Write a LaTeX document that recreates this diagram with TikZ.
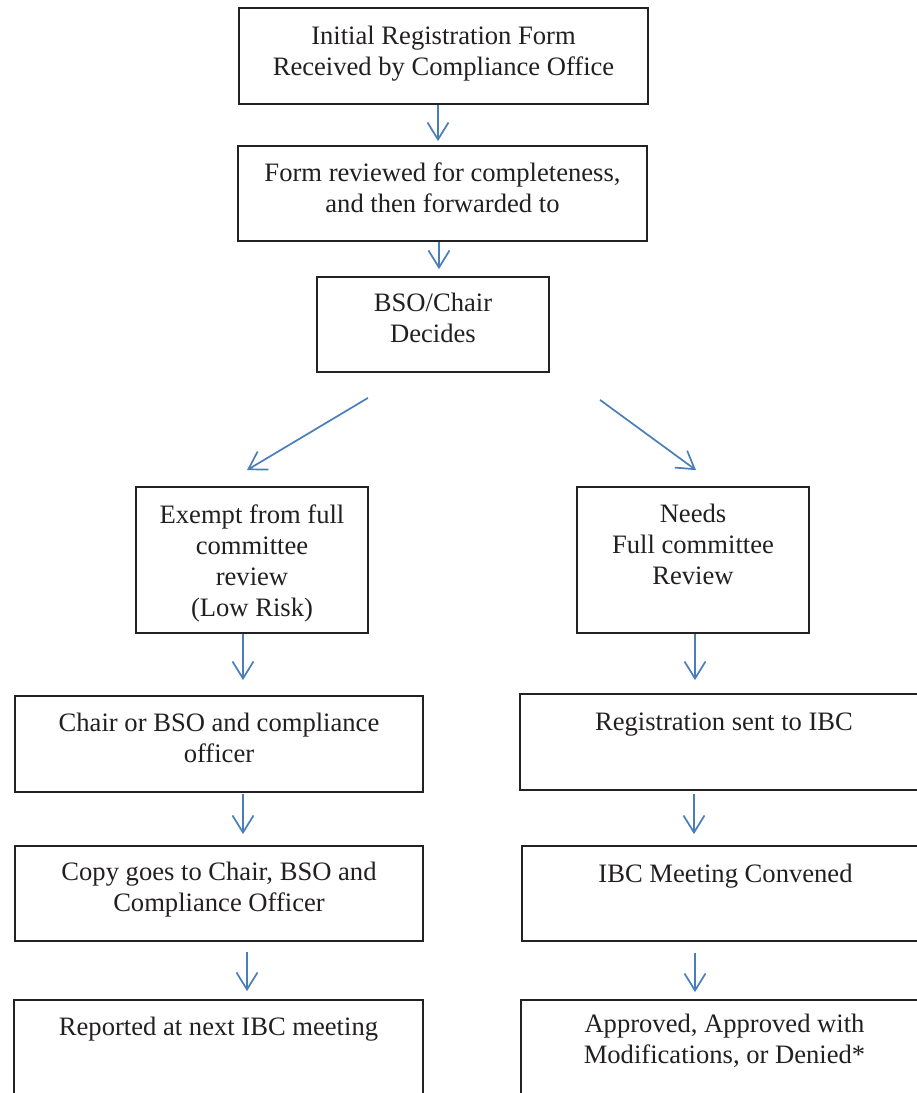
\documentclass[tikz,border=0pt]{standalone}
\usepackage{fontspec}
\setmainfont{Liberation Serif}
\usetikzlibrary{arrows.meta}
\definecolor{arrowblue}{HTML}{4A7EBB}
\definecolor{boxline}{HTML}{222222}
\definecolor{txtcol}{HTML}{231F20}
\tikzset{
  flowbox/.style={draw=boxline, line width=1.8pt, rectangle, inner sep=0pt},
  flowtxt/.style={anchor=north, inner sep=0pt, align=center, text=txtcol,
    font=\fontsize{26.6}{31}\selectfont},
  flowarr/.style={draw=arrowblue, line width=1.7pt,
    -{Straight Barb[length=17pt,width=21pt,line width=1.7pt]}}
}
\begin{document}
\begin{tikzpicture}[x=1pt,y=-1pt]
\useasboundingbox (0,0) rectangle (917,1093);
\clip (0,0) rectangle (917,1093);
% boxes
\node[flowbox, minimum width=409pt, minimum height=96pt] (b1) at (443.5,56) {};
\node[flowbox, minimum width=409pt, minimum height=95pt] (b2) at (442.5,193.5) {};
\node[flowbox, minimum width=232pt, minimum height=95pt] (b3) at (433,324.5) {};
\node[flowbox, minimum width=232pt, minimum height=146pt] (b4) at (252,560) {};
\node[flowbox, minimum width=232pt, minimum height=146pt] (b5) at (693,560) {};
\node[flowbox, minimum width=408pt, minimum height=96pt] (b6) at (219,744) {};
\node[flowbox, minimum width=408pt, minimum height=96pt] (b7) at (724,742) {};
\node[flowbox, minimum width=408pt, minimum height=95pt] (b8) at (219,893.5) {};
\node[flowbox, minimum width=407pt, minimum height=95pt] (b9) at (725.5,893.5) {};
\node[flowbox, minimum width=409pt, minimum height=96pt] (b10) at (218.5,1048) {};
\node[flowbox, minimum width=407pt, minimum height=96pt] (b11) at (724.5,1048) {};
% texts
\node[flowtxt] (t1) at ([yshift=-19pt]b1.north) {Initial Registration Form\\Received by Compliance Office};
\node[flowtxt] (t2) at ([yshift=-17pt]b2.north) {Form reviewed for completeness,\\and then forwarded to};
\node[flowtxt] (t3) at ([yshift=-17pt]b3.north) {BSO/Chair\\Decides};
\node[flowtxt] (t4) at ([yshift=-18pt]b4.north) {Exempt from full\\committee\\review\\(Low Risk)};
\node[flowtxt] (t5) at ([yshift=-18pt]b5.north) {Needs\\Full committee\\Review};
\node[flowtxt] (t6) at ([yshift=-18pt]b6.north) {Chair or BSO and compliance\\officer};
\node[flowtxt] (t7) at ([yshift=-20pt]b7.north) {Registration sent to IBC};
\node[flowtxt] (t8) at ([yshift=-17pt]b8.north) {Copy goes to Chair, BSO and\\Compliance Officer};
\node[flowtxt] (t9) at ([yshift=-19pt]b9.north) {IBC Meeting Convened};
\node[flowtxt] (t10) at ([yshift=-18pt]b10.north) {Reported at next IBC meeting};
\node[flowtxt] (t11) at ([yshift=-15pt]b11.north) {Approved, Approved with\\Modifications, or Denied*};
% arrows
\draw[flowarr] ([xshift=-5.5pt]b1.south) -- ([xshift=-4.5pt,yshift=4pt]b2.north);
\draw[flowarr] ([xshift=-3.5pt]b2.south) -- ([xshift=6pt,yshift=7pt]b3.north);
\draw[flowarr] ([xshift=-65pt,yshift=-25pt]b3.south) -- ([xshift=-5pt,yshift=16pt]b4.north);
\draw[flowarr] ([xshift=167pt,yshift=-27pt]b3.south) -- ([xshift=3pt,yshift=16pt]b5.north);
\draw[flowarr] ([xshift=-9pt]b4.south) -- ([xshift=24pt,yshift=15pt]b6.north);
\draw[flowarr] ([xshift=2pt]b5.south) -- ([xshift=-29pt,yshift=13pt]b7.north);
\draw[flowarr] ([xshift=24pt,yshift=-1pt]b6.south) -- ([xshift=24pt,yshift=11pt]b8.north);
\draw[flowarr] ([xshift=-30pt,yshift=-3pt]b7.south) -- ([xshift=-31.5pt,yshift=11pt]b9.north);
\draw[flowarr] ([xshift=28pt,yshift=-10pt]b8.south) -- ([xshift=28.5pt,yshift=8pt]b10.north);
\draw[flowarr] ([xshift=-30.5pt,yshift=-11pt]b9.south) -- ([xshift=-29.5pt,yshift=7pt]b11.north);
\end{tikzpicture}
\end{document}
